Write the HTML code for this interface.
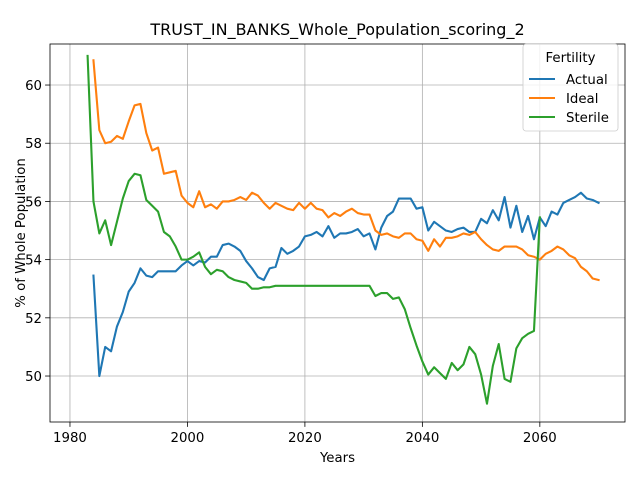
<!DOCTYPE html>
<html><head><meta charset="utf-8"><style>
body{margin:0;background:#fff;font-family:"DejaVu Sans","Liberation Sans",sans-serif}
</style></head><body>
<svg id="chart" width="640" height="480" xmlns="http://www.w3.org/2000/svg" style="font-family:'DejaVu Sans','Liberation Sans',sans-serif"></svg>
<script>
const startActual = 1984;
const actual = [53.45,50.0,51.0,50.85,51.7,52.2,52.9,53.2,53.7,53.45,53.4,53.6,53.6,53.6,53.6,53.8,53.95,53.8,53.95,53.9,54.1,54.1,54.5,54.55,54.45,54.3,53.95,53.7,53.4,53.3,53.7,53.75,54.4,54.2,54.3,54.45,54.8,54.85,54.95,54.8,55.15,54.75,54.9,54.9,54.95,55.05,54.8,54.9,54.35,55.1,55.5,55.65,56.1,56.1,56.1,55.75,55.8,55.0,55.3,55.15,55.0,54.95,55.05,55.1,54.95,54.95,55.4,55.25,55.7,55.35,56.15,55.1,55.85,54.95,55.5,54.7,55.45,55.15,55.65,55.55,55.95,56.05,56.15,56.3,56.1,56.05,55.95];
const startIdeal = 1984;
const ideal = [60.85,58.45,58.0,58.05,58.25,58.15,58.75,59.3,59.35,58.35,57.75,57.85,56.95,57.0,57.05,56.2,55.95,55.8,56.35,55.8,55.9,55.75,56.0,56.0,56.05,56.15,56.05,56.3,56.2,55.95,55.75,55.95,55.85,55.75,55.7,55.95,55.75,55.95,55.75,55.7,55.45,55.6,55.5,55.65,55.75,55.6,55.55,55.55,55.0,54.85,54.9,54.8,54.75,54.9,54.9,54.7,54.65,54.3,54.7,54.45,54.75,54.75,54.8,54.9,54.85,54.95,54.7,54.5,54.35,54.3,54.45,54.45,54.45,54.35,54.15,54.1,54.0,54.2,54.3,54.45,54.35,54.15,54.05,53.75,53.6,53.35,53.3];
const startSterile = 1983;
const sterile = [61.0,56.0,54.9,55.35,54.5,55.3,56.1,56.7,56.95,56.9,56.05,55.85,55.65,54.95,54.8,54.45,54.0,54.0,54.1,54.25,53.75,53.5,53.65,53.6,53.4,53.3,53.25,53.2,53.0,53.0,53.05,53.05,53.1,53.1,53.1,53.1,53.1,53.1,53.1,53.1,53.1,53.1,53.1,53.1,53.1,53.1,53.1,53.1,53.1,52.75,52.85,52.85,52.65,52.7,52.3,51.65,51.05,50.5,50.05,50.3,50.1,49.9,50.45,50.2,50.4,51.0,50.75,50.05,49.05,50.35,51.1,49.9,49.8,50.95,51.3,51.45,51.55,55.45];
const xTicks = [1980,2000,2020,2040,2060];
const yTicks = [50,52,54,56,58,60];

const svg = document.getElementById('chart');
const NS = 'http://www.w3.org/2000/svg';
const L=50,R=625,T=44,B=422;
const xMin=1976.6,xMax=2074.5,yMin=48.42,yMax=61.41;
const xs = v => L+(v-xMin)/(xMax-xMin)*(R-L);
const ys = v => B-(v-yMin)/(yMax-yMin)*(B-T);
function mk(tag, attrs, parent){const e=document.createElementNS(NS,tag);for(const k in attrs)e.setAttribute(k,attrs[k]);(parent||svg).appendChild(e);return e;}

const grid = mk('g',{});


xTicks.forEach(t=>{
  const x=xs(t);
  mk('line',{x1:x,x2:x,y1:T,y2:B,stroke:'#b0b0b0','stroke-width':0.8},grid);
  mk('line',{x1:x,x2:x,y1:B,y2:B+4.9,stroke:'#000','stroke-width':0.8});
  const tx=mk('text',{x:x,y:B+20,'font-size':13.3,'text-anchor':'middle',fill:'#000'});
  tx.textContent=t;
  
  
});
yTicks.forEach(t=>{
  const y=ys(t);
  mk('line',{x1:L,x2:R,y1:y,y2:y,stroke:'#b0b0b0','stroke-width':0.8},grid);
  mk('line',{x1:L-4.9,x2:L,y1:y,y2:y,stroke:'#000','stroke-width':0.8});
  const tx=mk('text',{x:L-8,y:y+5,'font-size':13.3,'text-anchor':'end',fill:'#000'});
  tx.textContent=t;
  
  
});

function series(data,start,color,name){
  const pts=data.map((v,i)=>xs(start+i).toFixed(2)+','+ys(v).toFixed(2)).join(' ');
  const p=mk('polyline',{points:pts,fill:'none',stroke:color,'stroke-width':2.1,'stroke-linejoin':'round','stroke-linecap':'square'});
  
  
}
series(actual,startActual,'#1f77b4','actual-line');
series(ideal,startIdeal,'#ff7f0e','ideal-line');
series(sterile,startSterile,'#2ca02c','sterile-line');

const frame=mk('rect',{x:L,y:T,width:R-L,height:B-T,fill:'none',stroke:'#000','stroke-width':0.8});



const title=mk('text',{x:(L+R)/2,y:T-9,'font-size':16,'text-anchor':'middle',fill:'#000'});
title.textContent='TRUST_IN_BANKS_Whole_Population_scoring_2';


const xl=mk('text',{x:(L+R)/2,y:462,'font-size':13.3,'text-anchor':'middle',fill:'#000'});
xl.textContent='Years';


const yl=mk('text',{x:0,y:0,'font-size':13.3,'text-anchor':'middle',fill:'#000',transform:`translate(25,${(T+B)/2}) rotate(-90)`});
yl.textContent='% of Whole Population';



const lg=mk('g',{});


mk('rect',{x:523,y:44,width:95,height:87,rx:3,fill:'#fff','fill-opacity':0.8,stroke:'#ccc','stroke-width':0.8},lg);
const lt=mk('text',{x:570.5,y:62,'font-size':13.3,'text-anchor':'middle',fill:'#000'},lg);
lt.textContent='Fertility';
const entries=[['Actual','#1f77b4'],['Ideal','#ff7f0e'],['Sterile','#2ca02c']];
entries.forEach((e,i)=>{
  const y=79+i*19;
  const g=mk('g',{},lg);
  
  
  mk('line',{x1:529,x2:555,y1:y,y2:y,stroke:e[1],'stroke-width':2.1},g);
  const t=mk('text',{x:566,y:y+5,'font-size':13.3,fill:'#000'},g);
  t.textContent=e[0];
});
</script>
</body></html>
